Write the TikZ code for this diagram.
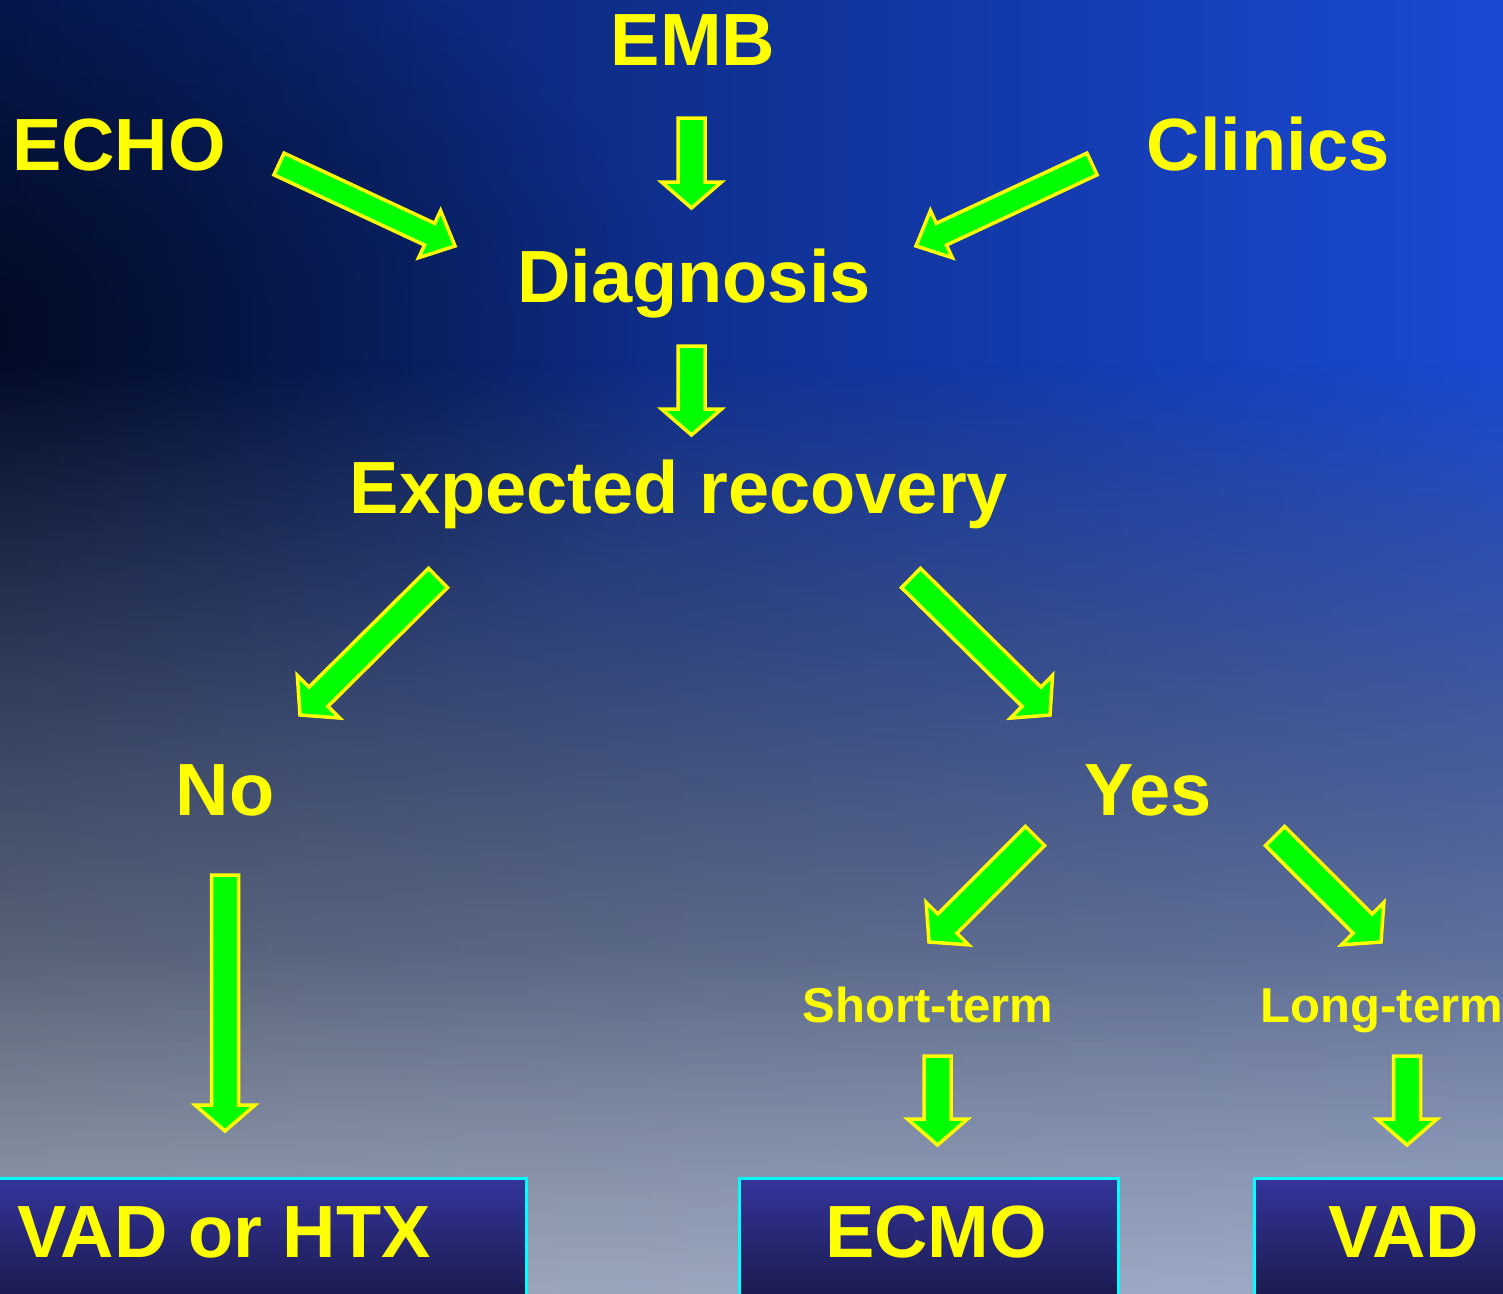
\documentclass[tikz,border=0pt]{standalone}
\usepackage{fontspec}
\setmainfont{Liberation Sans}
\usetikzlibrary{calc,fadings}
\definecolor{ylw}{HTML}{FFFF00}
\definecolor{grn}{HTML}{00FF00}
\definecolor{cyn}{HTML}{00FFFF}
\definecolor{bgL}{HTML}{061A56}
\definecolor{bgR}{HTML}{1A4AD6}
\definecolor{lowL}{HTML}{8C98AC}
\definecolor{lowR}{HTML}{94A4CC}
\definecolor{boxT}{HTML}{34349C}
\definecolor{boxB}{HTML}{181846}
\tikzfading[name=fadebot, top color=transparent!100, bottom color=transparent!0]
\tikzfading[name=radfade, inner color=transparent!0, outer color=transparent!100]
\newcommand\asw{13.5pt}
\newcommand\ahw{30pt}
\newcommand\ahl{26pt}
\newcommand\barrow[2]{%
  \coordinate (h) at ($(#2)!\ahl!(#1)$);
  \filldraw[blockarrow]
    ($(#1)!\asw!90:(#2)$) -- ($(h)!\asw!90:(#2)$) -- ($(h)!\ahw!90:(#2)$) -- (#2)
    -- ($(h)!\ahw!-90:(#2)$) -- ($(h)!\asw!-90:(#2)$) -- ($(#1)!\asw!-90:(#2)$) -- cycle;}
\begin{document}
\begin{tikzpicture}[x=1pt,y=-1pt,
  blockarrow/.style={fill=grn, draw=ylw, line width=3.5pt, line join=miter},
  big/.style={text=ylw, font=\bfseries\fontsize{74}{80}\selectfont, inner sep=0pt, anchor=base},
  small/.style={text=ylw, font=\bfseries\fontsize{49}{54}\selectfont, inner sep=0pt, anchor=base},
  vbox/.style={draw=cyn, line width=3pt, top color=boxT, bottom color=boxB, inner sep=0pt, anchor=north west}]
\useasboundingbox (0,0) rectangle (1503,1293);
\clip (0,0) rectangle (1503,1293);
% background
\fill[left color=bgL, right color=bgR] (-20,-20) rectangle (1523,1313);
\fill[black, path fading=radfade, fill opacity=0.6] (-40,330) ellipse (720 and 440);
\fill[left color=lowL, right color=lowR, path fading=fadebot] (-20,360) rectangle (1523,1313);
\fill[lowL!60!white, path fading=fadebot, fill opacity=0.35] (-20,950) rectangle (1523,1313);

% texts
\node[big] (emb) at (693,65) {EMB};
\node[big] (echo) at (119,170) {ECHO};
\node[big] (clin) at (1268,170) {Clinics};
\node[big] (diag) at (694,302) {Diagnosis};
\node[big] (exp) at (679,513) {Expected recovery};
\node[big] (no) at (225,815) {No};
\node[big] (yes) at (1148,815) {Yes};
\node[small] (st) at (928,1022) {Short-term};
\node[small] (lt) at (1382,1022) {Long-term};

% boxes
\node[vbox, minimum width=528, minimum height=130] (b1) at (-3,1177) {};
\node[vbox, minimum width=379, minimum height=130] (b2) at (738,1177) {};
\node[vbox, minimum width=260, minimum height=130] (b3) at (1253,1177) {};
\node[big] (t1) at (224,1257) {VAD or HTX};
\node[big] (t2) at (936,1257) {ECMO};
\node[big] (t3) at (1404,1257) {VAD};

% arrow end points
\coordinate (a1s) at (279,164);   \coordinate (a1t) at (455,246);
\coordinate (a2s) at (691.5,118); \coordinate (a2t) at (691.5,208);
\coordinate (a3s) at (1092,164);  \coordinate (a3t) at (916,246);
\coordinate (a4s) at (691.5,346); \coordinate (a4t) at (691.5,435);
\coordinate (a5s) at (438,578);   \coordinate (a5t) at (300,715);
\coordinate (a6s) at (911,578);   \coordinate (a6t) at (1050,715);
\coordinate (a7s) at (1035,836);  \coordinate (a7t) at (929,942);
\coordinate (a8s) at (1275,836);  \coordinate (a8t) at (1381,942);
\coordinate (a9s) at (225,875);   \coordinate (a9t) at (225,1131);
\coordinate (a10s) at (937.5,1056); \coordinate (a10t) at (937.5,1145);
\coordinate (a11s) at (1407,1056);  \coordinate (a11t) at (1407,1145);

\barrow{a2s}{a2t}
\barrow{a4s}{a4t}
\barrow{a5s}{a5t}
\barrow{a6s}{a6t}
\barrow{a7s}{a7t}
\barrow{a8s}{a8t}
\barrow{a9s}{a9t}
\barrow{a10s}{a10t}
\barrow{a11s}{a11t}
\renewcommand\asw{12pt}
\renewcommand\ahw{26pt}
\renewcommand\ahl{28pt}
\barrow{a1s}{a1t}
\barrow{a3s}{a3t}
\end{tikzpicture}
\end{document}
